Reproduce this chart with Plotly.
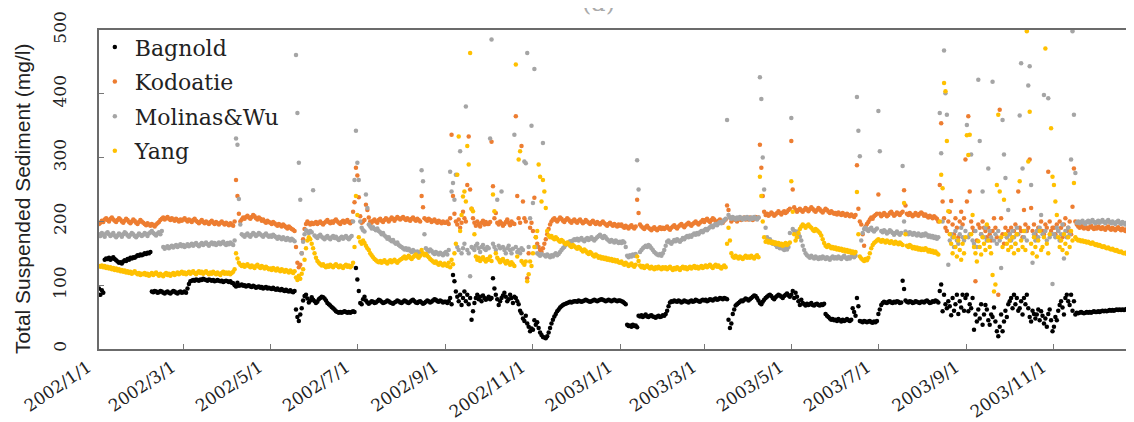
import pandas as pd
import plotly.graph_objects as go

# ---------------- data (daily values, one inner list per month, 2002-01 .. 2003-12) ----------------
month_starts = pd.date_range("2002-01-01", periods=24, freq="MS")

bagnold = [
 [95,85,92,88,140,142,141,143,140,142,144,141,139,137,135,136,134,137,139,138,141,140,143,142,144,143,145,147,146,148,147],
 [148,150,149,151,150,152,90,89,91,90,88,89,91,90,88,87,89,90,88,87,89,91,90,88,87,89,90,88],
 [89,90,88,95,102,106,107,108,107,109,108,107,109,108,110,109,108,107,109,108,107,108,106,107,108,107,106,107,105,106,107],
 [106,105,106,104,103,100,98,104,99,100,101,99,100,98,99,100,98,97,99,98,96,97,98,96,97,95,96,97,95,96],
 [95,94,96,94,93,95,93,92,94,92,91,93,91,90,92,90,89,91,62,50,44,54,64,76,83,85,79,73,76,81,77],
 [75,72,74,78,80,82,81,79,76,72,70,68,66,64,62,59,58,57,58,57,58,59,58,57,58,57,58,59,58,127],
 [109,91,72,70,78,82,76,73,71,73,75,74,72,73,75,77,76,74,72,73,74,76,75,73,72,71,73,74,76,75,73],
 [72,74,76,75,73,72,74,76,77,75,73,72,74,75,73,71,72,74,76,75,73,74,76,78,77,75,74,76,75,73,74],
 [74,72,75,80,70,116,106,90,82,75,85,69,80,90,75,85,70,80,46,59,72,80,85,78,82,75,84,80,77,79],
 [82,78,80,111,95,85,78,69,75,80,84,88,82,75,78,85,80,72,82,80,75,70,60,56,48,44,52,40,35,28,32],
 [30,45,38,42,33,26,22,19,18,17,20,26,33,40,46,51,55,59,62,65,67,69,70,71,72,73,74,73,74,75],
 [75,74,76,75,74,75,76,77,76,75,74,75,76,77,76,75,76,77,78,77,76,75,76,77,76,75,76,77,76,75,76],
 [76,75,74,72,70,38,36,37,35,38,36,37,34,52,51,53,50,52,54,51,50,52,53,51,50,49,51,52,50,51,53],
 [52,55,60,67,73,75,74,76,75,74,76,75,73,74,76,75,74,73,75,76,74,75,77,76,75,74,76,77],
 [76,77,75,76,78,77,76,78,79,77,78,80,79,78,80,79,78,46,33,40,55,62,68,70,72,74,76,75,77,79,78],
 [76,78,80,82,84,83,80,76,72,70,74,77,80,82,84,85,83,80,78,81,83,85,84,82,80,83,85,87,84,82],
 [85,91,80,88,82,75,69,77,72,70,68,71,69,70,72,69,68,70,71,69,68,70,69,71,55,52,50,48,46,47,45],
 [46,44,47,45,43,46,44,45,47,45,44,46,64,58,52,80,67,44,43,42,44,43,42,43,44,42,41,43,42,44],
 [55,62,69,72,74,73,72,74,75,73,72,74,73,75,74,72,73,107,94,76,74,73,75,74,72,73,75,74,73,72,74],
 [74,73,75,76,74,72,73,75,74,76,75,73,91,101,59,85,70,64,75,67,53,80,60,70,85,55,75,65,85,60,80],
 [85,59,70,64,80,30,54,43,62,48,70,38,54,69,62,45,38,54,50,65,43,28,20,35,54,28,43,60,50,70],
 [75,80,64,85,70,80,60,64,75,54,80,70,85,64,50,43,60,55,48,54,62,45,59,52,40,48,35,55,62,45,28],
 [35,50,45,60,69,75,65,54,80,85,75,69,85,60,75,54,57,56,57,58,57,56,57,58,57,58,57,58,59,58],
 [58,59,58,59,60,59,60,59,60,61,60,61,60,61,62,61,62,61,62,61,62,63,62,63,62,63,62,63,64,63,64],
]

kodoatie = [
 [196,198,201,199,203,205,202,200,204,206,203,201,199,202,205,203,200,198,201,204,202,199,197,200,203,201,198,196,199,202,200],
 [198,196,194,197,195,193,196,194,192,195,197,199,202,204,206,203,205,207,204,202,205,203,201,204,202,200,203,201],
 [203,205,202,200,203,201,199,202,204,201,199,197,200,202,199,197,200,198,196,199,201,198,196,199,197,195,198,200,197,195,198],
 [196,194,197,195,193,200,265,240,212,200,203,206,204,207,209,206,204,207,210,208,205,203,206,204,201,203,200,198,201,199],
 [198,196,199,197,195,193,196,194,192,195,193,191,189,192,190,188,187,185,160,135,128,132,150,172,188,196,200,197,195,198,196],
 [197,199,196,198,200,197,195,198,200,202,199,197,200,198,201,203,200,198,196,199,201,198,200,202,199,197,200,215,230,284],
 [272,238,208,198,200,202,226,218,206,200,198,201,203,200,198,202,204,201,199,202,205,203,200,203,206,204,201,204,207,205,203],
 [205,207,204,202,205,203,201,204,206,203,201,204,202,200,240,222,205,203,201,204,202,199,201,203,200,198,201,199,197,200,198],
 [198,200,196,205,336,240,212,200,195,203,190,198,215,205,200,257,333,250,220,205,198,193,200,196,192,198,201,195,199,196],
 [196,199,325,255,205,213,198,195,200,197,193,196,199,203,198,194,200,197,196,365,240,205,198,318,231,205,200,111,150,190,198],
 [185,237,175,165,160,155,152,158,165,172,180,188,195,200,203,205,202,200,203,206,204,201,199,202,205,203,200,198,201,203],
 [200,198,201,203,200,197,199,202,200,198,196,199,201,198,196,199,197,195,198,200,197,195,193,196,198,195,193,196,194,192,195],
 [193,195,192,190,193,191,189,192,194,191,189,192,234,213,195,192,190,188,191,193,190,188,186,189,191,188,186,189,191,188,190],
 [188,190,192,189,187,190,192,194,191,189,192,194,196,193,191,194,196,198,195,193,196,198,200,197,195,198,200,202],
 [199,202,204,201,199,202,205,203,200,198,201,203,200,198,201,203,225,218,206,200,203,205,202,200,203,205,202,204,206,203,205],
 [203,206,204,202,205,207,204,206,320,284,240,215,210,212,209,211,214,212,209,211,213,216,213,211,214,216,213,215,218,220],
 [326,250,222,218,215,218,220,217,215,218,221,219,216,219,222,220,217,215,218,221,219,216,214,217,220,218,215,213,216,214,212],
 [213,211,214,212,210,213,211,209,212,210,208,211,209,207,210,288,220,200,195,180,162,192,196,199,203,206,204,208,210,212],
 [242,212,208,210,213,211,208,210,213,215,212,209,211,214,212,210,213,215,249,225,212,210,213,211,208,210,213,211,209,212,214],
 [212,209,211,208,206,209,207,205,208,206,204,200,257,354,231,205,190,185,200,215,232,195,180,205,190,175,200,215,195,205,297],
 [231,365,247,200,190,185,106,170,195,190,180,200,190,185,175,190,180,170,185,205,190,175,85,375,205,180,165,190,175,185],
 [180,190,175,185,195,180,247,190,185,175,218,195,185,190,297,221,185,195,180,175,190,185,200,185,180,195,190,278,200,185,190],
 [190,180,195,185,200,190,175,195,205,185,190,200,180,223,283,200,195,192,190,193,191,189,192,190,188,191,193,190,188,191],
 [189,192,190,188,191,189,187,190,192,189,187,190,188,186,189,191,188,186,189,187,185,188,190,187,185,188,186,184,187,189,186],
]

molinas_wu = [
 [180,177,182,179,176,181,183,180,177,179,182,178,175,178,181,179,176,180,183,181,178,176,179,182,180,177,175,178,181,179,177],
 [179,182,180,177,181,183,185,182,180,178,181,183,180,185,160,157,159,161,158,160,162,159,161,163,160,162,164,161],
 [163,160,162,164,161,163,165,162,164,166,163,161,164,166,163,165,167,164,162,165,167,164,166,163,165,167,164,166,168,165,163],
 [166,164,167,165,163,170,330,320,235,195,180,178,176,179,181,178,176,179,182,180,177,179,182,180,178,176,179,181,178,176],
 [178,176,179,177,175,173,176,174,172,175,173,171,174,172,170,173,171,169,461,370,292,234,150,168,180,186,184,182,185,183,249],
 [178,176,174,177,179,176,174,172,175,177,174,172,175,177,174,176,173,171,174,176,173,175,177,174,172,175,177,200,265,342],
 [292,265,200,190,186,184,242,221,195,192,189,191,188,186,189,185,183,180,182,178,176,173,175,171,169,171,167,165,167,163,161],
 [160,158,156,158,155,157,154,152,155,153,151,153,150,152,280,263,180,158,155,153,156,154,151,149,152,150,148,151,149,147,150],
 [152,148,155,278,247,260,234,273,160,155,310,150,158,165,380,155,150,114,160,158,155,162,165,158,152,160,163,157,155,160],
 [158,330,485,165,160,155,234,162,158,247,160,155,150,158,162,155,150,157,336,160,152,155,150,158,155,294,291,464,160,205,350],
 [229,439,160,150,148,146,149,323,147,145,148,146,144,147,145,148,150,147,149,152,155,158,160,163,165,167,169,168,170,172],
 [171,173,170,172,174,171,169,172,174,171,173,175,172,170,173,175,177,179,176,174,177,175,172,170,168,171,169,167,170,168,166],
 [168,166,169,167,160,146,144,147,145,148,146,149,296,250,152,155,158,160,162,160,163,161,158,155,152,150,148,147,149,146,150],
 [155,162,168,170,167,165,168,171,169,172,170,168,171,174,172,175,177,175,178,176,179,181,179,182,180,183,185,183],
 [186,188,186,189,191,193,191,194,196,194,197,199,197,200,202,204,359,210,206,204,207,205,203,206,204,207,205,203,206,204,207],
 [205,203,206,204,207,205,203,206,426,392,300,250,190,175,170,172,168,165,167,163,160,162,158,160,157,155,158,156,160,182],
 [362,188,185,182,184,180,176,170,162,155,150,147,145,143,146,144,142,145,143,141,144,142,145,143,141,144,142,140,143,145,142],
 [144,142,145,143,141,144,146,143,141,144,142,145,147,144,146,395,342,302,170,182,188,190,187,185,188,190,186,184,187,189],
 [373,310,185,183,186,184,181,183,186,184,182,179,182,184,181,179,182,287,200,184,182,180,183,181,179,182,180,178,181,179,177],
 [180,178,181,179,176,178,175,177,174,176,173,175,370,307,200,468,401,367,132,170,180,175,160,185,170,165,180,190,175,170,185],
 [351,175,180,305,170,165,185,160,422,326,180,247,175,190,170,283,185,175,419,170,180,165,185,170,127,359,305,268,175,218],
 [180,170,185,175,165,190,180,366,448,283,175,185,170,413,443,257,135,180,170,185,175,190,210,180,398,185,170,393,175,180,102],
 [180,175,190,185,170,180,195,142,185,175,190,180,297,498,367,276,198,200,197,199,201,198,196,199,201,198,200,202,199,197],
 [199,201,198,200,202,199,197,200,202,199,197,200,198,196,199,201,198,196,199,197,195,198,200,197,195,198,196,194,197,195,193],
]

yang = [
 [130,129,131,128,130,127,129,126,128,125,127,124,126,123,125,122,124,121,123,120,122,119,121,118,120,122,119,117,119,116,118],
 [117,119,116,118,115,117,119,116,118,120,117,115,118,116,114,117,119,116,118,115,117,119,116,118,120,117,119,121],
 [118,120,117,119,121,118,120,122,119,117,120,122,119,121,118,120,122,119,117,120,118,121,119,117,120,118,116,119,121,118,120],
 [118,120,117,119,121,125,150,142,135,132,130,132,129,131,133,130,128,131,129,127,130,132,129,127,130,128,126,129,127,125],
 [126,124,127,125,123,126,124,122,125,123,121,124,122,120,123,121,119,122,112,108,115,110,118,125,140,158,170,175,172,165,158],
 [150,143,138,135,133,131,133,130,128,131,129,132,130,128,131,133,130,128,131,129,127,130,132,129,131,128,130,135,160,240],
 [210,175,168,165,170,166,162,158,155,150,147,144,141,139,137,136,138,135,137,139,136,134,137,139,136,138,140,137,135,138,140],
 [141,143,145,142,144,146,143,141,144,146,148,145,143,146,155,150,147,149,146,144,141,139,137,135,137,134,132,135,133,131,134],
 [132,130,135,128,140,133,150,165,273,333,185,210,239,247,231,318,289,464,220,216,180,145,140,143,138,141,144,140,137,141],
 [140,145,138,242,216,150,143,140,136,139,141,137,134,138,135,132,136,133,130,446,145,297,310,138,135,132,137,106,117,137,130],
 [150,160,175,185,289,270,231,265,247,221,185,178,175,177,174,172,175,173,170,168,171,169,166,164,167,165,162,160,163,161],
 [159,157,160,158,155,153,156,154,151,149,152,150,147,145,148,146,143,145,142,144,141,143,140,142,139,141,138,140,137,139,136],
 [135,137,134,132,135,133,130,132,134,131,129,132,145,138,131,128,130,127,129,131,128,126,129,127,125,128,126,129,127,125,128],
 [126,128,125,127,129,126,124,127,125,128,126,124,127,129,126,128,125,127,129,126,128,130,127,129,126,128,130,127],
 [129,131,128,130,132,129,127,130,132,129,131,128,126,129,131,128,165,190,170,150,145,143,146,144,142,145,143,141,144,146,143],
 [145,143,146,144,142,145,147,144,270,240,200,175,168,170,167,169,166,168,165,167,164,166,163,165,162,164,166,163,165,167],
 [263,215,180,170,175,182,188,192,195,193,190,193,195,192,190,187,185,188,186,184,182,178,172,166,162,160,163,161,158,160,157],
 [159,156,158,155,157,154,156,153,155,152,154,151,153,150,152,246,180,145,142,140,138,141,139,143,150,158,163,166,168,170],
 [172,170,168,171,169,167,170,168,166,169,167,165,168,166,164,167,165,163,229,180,162,160,163,161,158,160,157,159,156,158,155],
 [157,155,158,156,153,155,152,154,151,153,150,148,200,273,252,417,404,326,216,180,165,150,175,160,145,170,155,140,165,150,175],
 [335,304,336,180,210,160,150,137,169,160,148,175,165,155,195,170,160,150,116,90,101,257,367,247,175,160,234,180,165,155],
 [170,160,175,150,165,180,155,263,170,160,185,155,498,294,372,165,150,175,160,145,170,185,155,160,175,471,165,150,180,346,270],
 [257,231,210,175,160,170,155,180,165,150,175,160,185,170,260,175,172,170,171,169,170,168,169,167,168,166,165,167,165,163],
 [164,162,163,161,160,161,159,158,159,157,156,157,155,154,155,153,152,153,151,150,151,149,148,149,147,146,147,145,144,145,143],
]

series_names = ["Bagnold", "Kodoatie", "Molinas&Wu", "Yang"]
series_colors = ["#000000", "#ED7D31", "#A5A5A5", "#FFC000"]

tick_dates = ["2002-01-01", "2002-03-01", "2002-05-01", "2002-07-01", "2002-09-01", "2002-11-01",
              "2003-01-01", "2003-03-01", "2003-05-01", "2003-07-01", "2003-09-01", "2003-11-01"]
tick_text = ["2002/1/1", "2002/3/1", "2002/5/1", "2002/7/1", "2002/9/1", "2002/11/1",
             "2003/1/1", "2003/3/1", "2003/5/1", "2003/7/1", "2003/9/1", "2003/11/1"]
y_ticks = [0, 100, 200, 300, 400, 500]


def expand(monthly):
    xs, ys = [], []
    for start, vals in zip(month_starts, monthly):
        for i, v in enumerate(vals):
            xs.append(start + pd.Timedelta(days=i))
            ys.append(v)
    return xs, ys


fig = go.Figure()
for name, color, data in zip(series_names, series_colors, [bagnold, kodoatie, molinas_wu, yang]):
    xs, ys = expand(data)
    fig.add_trace(go.Scatter(
        x=xs, y=ys, mode="markers", name=name, legendgroup=name,
        marker=dict(color=color, size=4.5, line=dict(width=0)),
    ))

serif = "DejaVu Serif"
sans = "Liberation Sans"

fig.update_layout(
    width=1134, height=422,
    margin=dict(l=91, r=1, t=22, b=81),
    paper_bgcolor="white", plot_bgcolor="white",
    font=dict(family=serif),
    showlegend=True,
    legend=dict(x=-0.004, y=1.012, xanchor="left", yanchor="top",
                font=dict(family=serif, size=22, color="#222222"),
                bgcolor="rgba(0,0,0,0)", tracegroupgap=3, itemsizing="trace"),
    xaxis=dict(
        type="date", range=["2002-01-01", "2003-12-30 14:00"],
        tickmode="array", tickvals=tick_dates, ticktext=tick_text,
        tickangle=-34, ticks="inside", ticklen=5, tickcolor="#777777",
        tickfont=dict(family=serif, size=17, color="#222222"),
        ticklabelstandoff=0, ticklabelshift=-11,
        showline=True, linecolor="#6b6b6b", linewidth=1.5, mirror=True,
        showgrid=False, zeroline=False,
    ),
    yaxis=dict(
        range=[0, 500], tickmode="array", tickvals=y_ticks,
        tickangle=-90, ticks="inside", ticklen=5, tickcolor="#777777",
        tickfont=dict(family=serif, size=17, color="#222222"),
        ticklabelstandoff=24,
        showline=True, linecolor="#6b6b6b", linewidth=1.5, mirror=True,
        showgrid=False, zeroline=False,
    ),
    annotations=[
        dict(text="Total Suspended Sediment (mg/l)", xref="paper", yref="paper",
             x=-0.074, y=0.47, xanchor="center", yanchor="middle", textangle=-90,
             showarrow=False, font=dict(family=sans, size=21, color="#222222")),
        dict(text="(a)", xref="paper", yref="paper", x=0.48, y=1.085,
             xanchor="center", yanchor="middle", showarrow=False,
             font=dict(family=serif, size=24, color="#aaaaaa")),
    ],
)

fig.write_html("out.html")
